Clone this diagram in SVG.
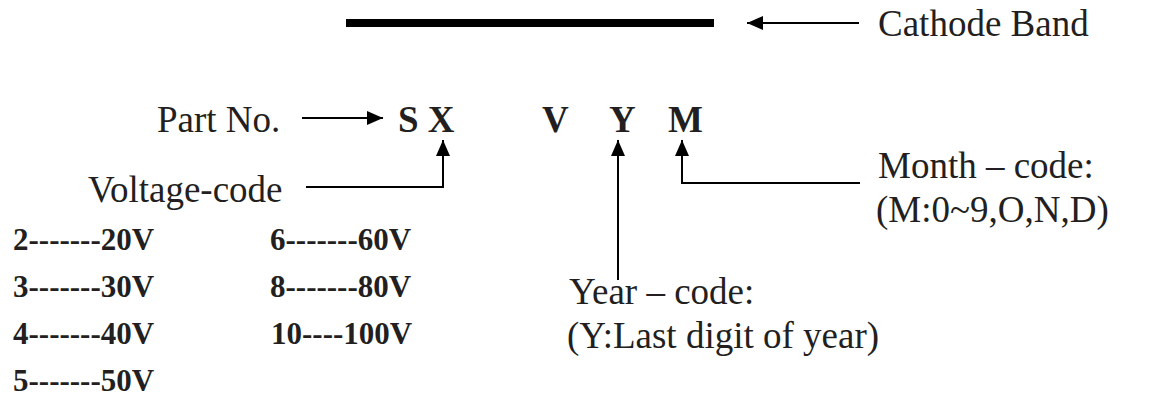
<svg xmlns="http://www.w3.org/2000/svg" width="1149" height="399" viewBox="0 0 1149 399">
<style>
.t{font-family:"Liberation Serif","Times New Roman",serif;font-size:37px;fill:#231f20}
.b{font-family:"Liberation Serif","Times New Roman",serif;font-size:37px;font-weight:bold;fill:#231f20}
.s{font-family:"Liberation Serif","Times New Roman",serif;font-size:31px;font-weight:bold;fill:#231f20}
.c{fill:none;stroke:#000;stroke-width:2}
</style>
<defs>
<marker id="ah" markerUnits="userSpaceOnUse" markerWidth="16" markerHeight="14" refX="16" refY="7" orient="auto">
<path d="M0,0 L16,7 L0,14 Z" fill="#000"/>
</marker>
</defs>
<rect x="0" y="0" width="1149" height="399" fill="#fff"/>
<g id="band"><rect x="346" y="19" width="368" height="8" fill="#000"/></g>
<g id="cathode-label"><text class="t" x="878" y="36">Cathode Band</text></g>
<g id="partno-label"><text class="t" x="157" y="132">Part No.</text></g>
<g id="code"><text class="b" x="398" y="132">S X</text><text class="b" x="542" y="132">V</text><text class="b" x="609" y="132">Y</text><text class="b" x="668" y="132">M</text></g>
<g id="voltage-label"><text class="t" x="88" y="202">Voltage-code</text></g>
<g id="voltage-table">
<text class="s" x="13" y="250">2-------20V</text>
<text class="s" x="13" y="297">3-------30V</text>
<text class="s" x="13" y="344">4-------40V</text>
<text class="s" x="13" y="391">5-------50V</text>
<text class="s" x="270" y="250">6-------60V</text>
<text class="s" x="270" y="297">8-------80V</text>
<text class="s" x="271" y="344">10----100V</text>
</g>
<g id="month-label"><text class="t" x="878" y="178">Month – code:</text><text class="t" x="876" y="222">(M:0~9,O,N,D)</text></g>
<g id="year-label"><text class="t" x="569" y="304">Year – code:</text><text class="t" x="567" y="348">(Y:Last digit of year)</text></g>
<g id="connectors">
<path class="c" d="M859,23 H747" marker-end="url(#ah)"/>
<path class="c" d="M302,118 H383" marker-end="url(#ah)"/>
<path class="c" d="M306,187 H443 V140" marker-end="url(#ah)"/>
<path class="c" d="M618,280 V140" marker-end="url(#ah)"/>
<path class="c" d="M860,183 H682 V140" marker-end="url(#ah)"/>
</g>
</svg>
